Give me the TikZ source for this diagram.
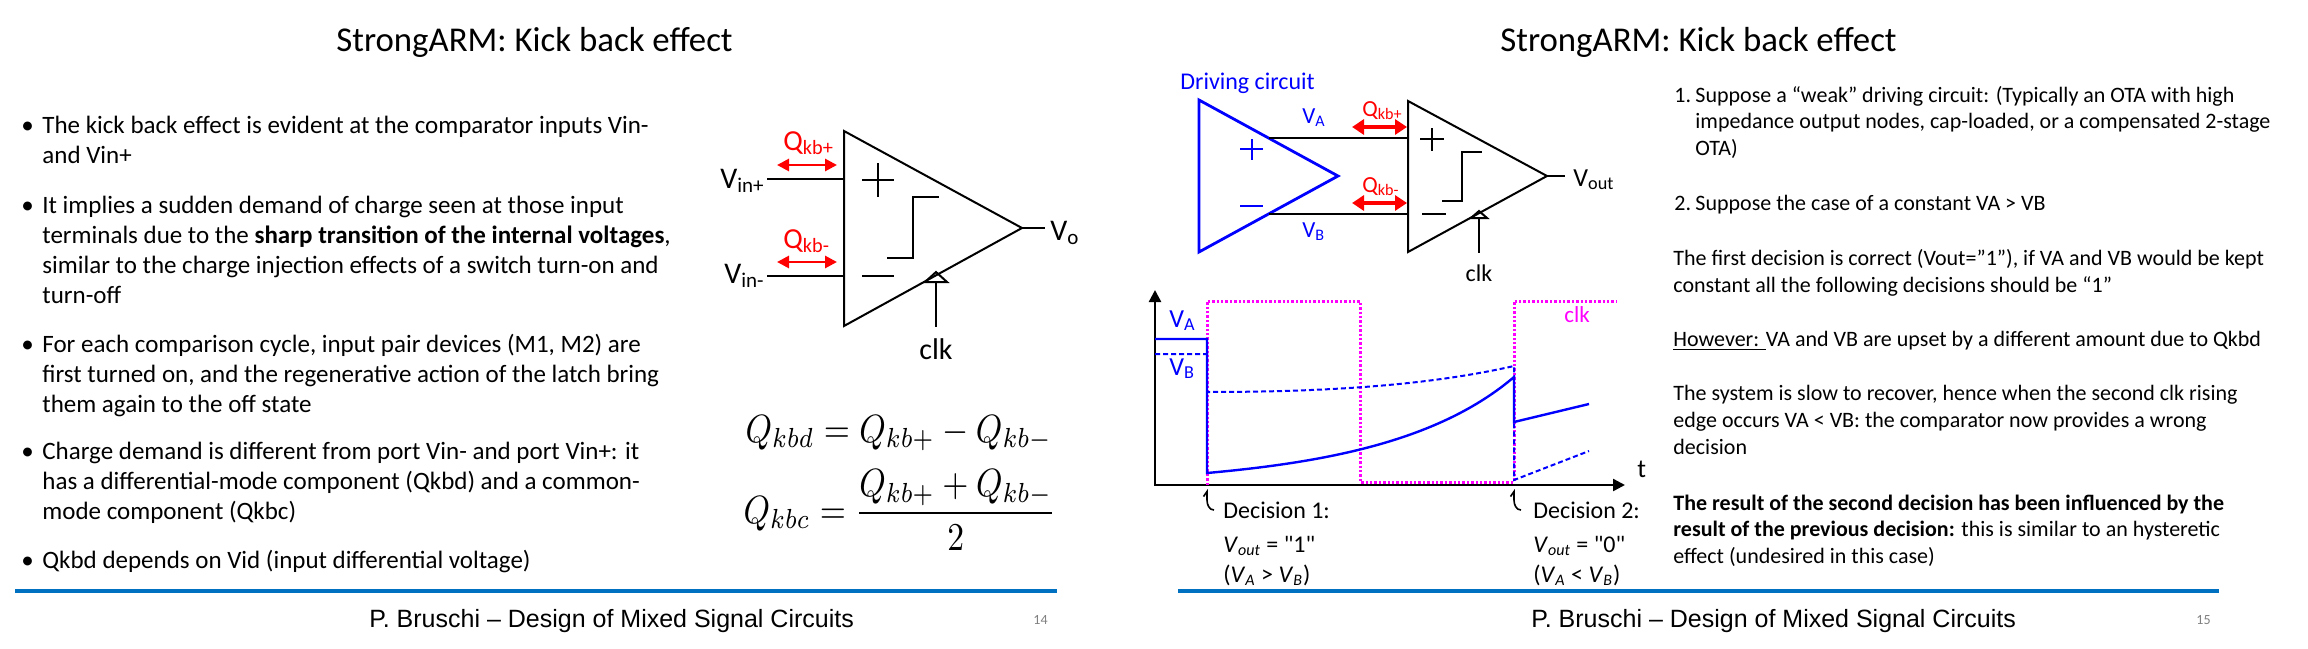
\documentclass[tikz,border=0pt]{standalone}
\usepackage[no-math]{fontspec}
\setmainfont{Carlito}
\newfontfamily\footfont{Liberation Sans}
\usetikzlibrary{arrows.meta,calc}
\definecolor{lineblue}{HTML}{0070C0}
\definecolor{drvblue}{HTML}{0000FF}
\definecolor{clkpink}{HTML}{FF00FF}
\newcommand{\fs}[2]{\fontsize{#1}{#2}\selectfont}
\newcommand{\lines}[1]{\begin{tabular}[t]{@{}l@{}}#1\end{tabular}}

\begin{document}
\begin{tikzpicture}[x=0.5pt,y=-0.5pt,
	wire/.style={line width=1pt},
	kick/.style={red,line width=1.4pt,{Triangle[length=6pt,width=6pt]}-{Triangle[length=6pt,width=6pt]}},
	bigkick/.style={red,line width=1.7pt,{Triangle[length=6pt,width=7.5pt]}-{Triangle[length=6pt,width=7.5pt]}},
	txt/.style={anchor=base west,inner sep=0pt},
	axis/.style={line width=1.2pt,{Triangle[length=6pt,width=6pt]}-{Triangle[length=6pt,width=6pt]}},
	edge/.style={line width=0.8pt,-{Straight Barb[left,length=2.5pt,width=3.5pt]}}]
\fill[white] (0,0) rectangle (2308,648);
\useasboundingbox (0,0) rectangle (2308,648);

% titles
\node[txt,font=\fs{17.4}{20}] (title1) at (336,51) {StrongARM: Kick back effect};
\node[txt,font=\fs{17.4}{20}] (title2) at (1500,51) {StrongARM: Kick back effect};

% left slide: bullets
\foreach \y in {133,213,352,459,568}
	\node[txt,font=\fs{12.5}{15}] (b\y) at (21,\y) {•};
\node[txt,font=\fs{12.5}{15}] (p1) at (42,133) {\lines{The kick back effect is evident at the comparator inputs Vin-\\and Vin+}};
\node[txt,font=\fs{12.5}{15}] (p2) at (42,213) {\lines{It implies a sudden demand of charge seen at those input\\terminals due to the \textbf{sharp transition of the internal voltages},\\similar to the charge injection effects of a switch turn-on and\\turn-off}};
\node[txt,font=\fs{12.5}{15}] (p3) at (42,352) {\lines{For each comparison cycle, input pair devices (M1, M2) are\\first turned on, and the regenerative action of the latch bring\\them again to the off state}};
\node[txt,font=\fs{12.5}{15}] (p4) at (42,459) {\lines{Charge demand is different from port Vin- and port Vin+: it\\has a differential-mode component (Qkbd) and a common-\\mode component (Qkbc)}};
\node[txt,font=\fs{12.5}{15}] (p5) at (42,568) {Qkbd depends on Vid (input differential voltage)};

% left comparator
\coordinate (ct) at (844,131);
\coordinate (cb) at (844,326);
\coordinate (co) at (1022,228);
\coordinate (inp) at (844,179);
\coordinate (inm) at (844,276);
\draw[wire] (ct) -- (co) -- (cb) -- cycle;
\draw[wire] (inp) -- ++(-77,0);
\draw[wire] (inm) -- ++(-77,0);
\draw[wire] (co) -- ++(23,0);
\node[anchor=base east,inner sep=0pt,font=\fs{15}{18}] (vinp) at (765,188) {V\textsubscript{in+}};
\node[anchor=base east,inner sep=0pt,font=\fs{15}{18}] (vinm) at (765,283) {V\textsubscript{in-}};
\node[txt,font=\fs{15}{18}] (vo) at (1050,240) {V\textsubscript{o}};
\node[txt,red,font=\fs{14.5}{17}] (qp) at (783,150) {Q\textsubscript{kb+}};
\node[txt,red,font=\fs{14.5}{17}] (qm) at (783,248) {Q\textsubscript{kb-}};
\draw[kick] (777,165) -- (837,165);
\draw[kick] (777,262) -- (837,262);
\draw[wire] (862,180) -- (894,180) (878,163) -- (878,197);
\draw[wire] (862,276) -- (894,276);
\draw[wire] (887,258) -- (913,258) -- (913,197) -- (939,197);
\draw[wire] (925,282) -- (936,272) -- (947,282) -- cycle;
\draw[wire] (936,282) -- (936,327) node[below=2pt,font=\fs{15}{18}] (clk1) {clk};

% equations
\node[txt,xscale=1.68,yscale=1.97] (eqd) at (745,442) {$Q_{kbd}=Q_{kb+}-Q_{kb-}$};
\node[txt,xscale=1.68,yscale=1.97] (eqc) at (743,523) {$Q_{kbc}=\displaystyle\frac{Q_{kb+}+Q_{kb-}}{2}$};

% right slide: driving circuit and comparator
\coordinate (dt) at (1199,100);
\coordinate (db) at (1199,252);
\coordinate (do) at (1338,176);
\coordinate (st) at (1408,101);
\coordinate (sb) at (1408,252);
\coordinate (so) at (1547,176);
\draw[drvblue,line width=1.4pt] (dt) -- (do) -- (db) -- cycle;
\draw[drvblue,line width=1pt] (1240,149) -- (1263,149) (1252,139) -- (1252,160);
\draw[drvblue,line width=1pt] (1240,206) -- (1263,206);
\node[txt,drvblue,font=\fs{12}{14}] (drv) at (1180,89) {Driving circuit};
\draw[wire] (st) -- (so) -- (sb) -- cycle;
\coordinate (va) at ($(dt)!0.5!(do)$);
\coordinate (vb) at ($(db)!0.5!(do)$);
\draw[wire] (va) -- (va -| st);
\draw[wire] (vb) -- (vb -| st);
\draw[wire] (so) -- ++(18,0);
\node[txt,drvblue,font=\fs{11.5}{14}] (lva) at (1302,123) {V\textsubscript{A}};
\node[txt,drvblue,font=\fs{11.5}{14}] (lvb) at (1302,237) {V\textsubscript{B}};
\node[txt,red,font=\fs{11.5}{14}] (qp2) at (1362,116) {Q\textsubscript{kb+}};
\node[txt,red,font=\fs{11.5}{14}] (qm2) at (1362,192) {Q\textsubscript{kb-}};
\draw[bigkick] (1352,127) -- (1407,127);
\draw[bigkick] (1352,203) -- (1407,203);
\node[txt,font=\fs{13}{15}] (vout) at (1573,186) {V\textsubscript{out}};
\draw[wire] (1420,139) -- (1444,139) (1432,128) -- (1432,151);
\draw[wire] (1422,214) -- (1446,214);
\draw[wire] (1442,201) -- (1462,201) -- (1462,152) -- (1482,152);
\draw[wire] (1471,218) -- (1479,211) -- (1487,218) -- cycle;
\draw[wire] (1479,218) -- (1479,253) node[below=2pt,font=\fs{12}{14}] (clk2) {clk};

% waveforms
\draw[axis] (1155,290) -- (1155,485) -- (1625,485);
\node[txt,font=\fs{13}{15}] (tax) at (1637,477) {t};
\draw[clkpink,line width=1.5pt,dash pattern=on 1.2pt off 1pt] (1207,485) -- (1207,301) -- (1360,301) -- (1360,482) -- (1514,482) -- (1514,301) -- (1616,301);
\draw[drvblue,line width=1.2pt] (1155,339) -- (1207,339) -- (1207,473) .. controls (1330,462) and (1440,440) .. (1514,377) -- (1514,422) -- (1589,404);
\draw[drvblue,line width=1pt,dash pattern=on 2.5pt off 1.5pt] (1155,354) -- (1207,354) -- (1207,392) .. controls (1330,392) and (1430,385) .. (1514,366) -- (1514,480) -- (1589,451);
\node[txt,drvblue,font=\fs{13}{15}] (wva) at (1169,327) {V\textsubscript{A}};
\node[txt,drvblue,font=\fs{13}{15}] (wvb) at (1169,375) {V\textsubscript{B}};
\node[txt,clkpink,font=\fs{11.5}{14}] (wclk) at (1564,322) {clk};
\draw[edge] (1214,510) to[out=180,in=-90] (1207,500) -- (1207,489);
\draw[edge] (1521,510) to[out=180,in=-90] (1514,500) -- (1514,489);
\node[txt,font=\fs{12}{15}] (dec1) at (1223,518) {\lines{Decision 1:\\[2pt]\textit{V}\textsubscript{\textit{out}} = \textquotedbl 1\textquotedbl\\(\textit{V}\textsubscript{\textit{A}} > \textit{V}\textsubscript{\textit{B}})}};
\node[txt,font=\fs{12}{15}] (dec2) at (1533,518) {\lines{Decision 2:\\[2pt]\textit{V}\textsubscript{\textit{out}} = \textquotedbl 0\textquotedbl\\(\textit{V}\textsubscript{\textit{A}} < \textit{V}\textsubscript{\textit{B}})}};

% right slide: text
\node[txt,font=\fs{11}{13.4}] (n1) at (1674,102) {1.};
\node[txt,font=\fs{11}{13.4}] (r1) at (1695,102) {\lines{Suppose a “weak” driving circuit: (Typically an OTA with high\\impedance output nodes, cap-loaded, or a compensated 2-stage\\OTA)}};
\node[txt,font=\fs{11}{13.4}] (n2) at (1674,210) {2.};
\node[txt,font=\fs{11}{13.4}] (r2) at (1695,210) {Suppose the case of a constant VA > VB};
\node[txt,font=\fs{11}{13.5}] (r3) at (1673,265) {\lines{The first decision is correct (Vout=”1”), if VA and VB would be kept\\constant all the following decisions should be “1”}};
\node[txt,font=\fs{11}{13.5}] (r4) at (1673,346) {\underline{However: }VA and VB are upset by a different amount due to Qkbd};
\node[txt,font=\fs{11}{13.6}] (r5) at (1673,400) {\lines{The system is slow to recover, hence when the second clk rising\\edge occurs VA < VB: the comparator now provides a wrong\\decision}};
\node[txt,font=\fs{11}{13.3}] (r6) at (1673,510) {\lines{\textbf{The result of the second decision has been influenced by the}\\\textbf{result of the previous decision:} this is similar to an hysteretic\\effect (undesired in this case)}};

% footers
\draw[lineblue,line width=1.6pt] (15,591) -- (1057,591);
\draw[lineblue,line width=1.6pt] (1178,591) -- (2219,591);
\node[txt,font=\footfont\fs{12.5}{15}] (foot1) at (369,627) {P. Bruschi – Design of Mixed Signal Circuits};
\node[txt,font=\footfont\fs{12.5}{15}] (foot2) at (1531,627) {P. Bruschi – Design of Mixed Signal Circuits};
\node[txt,gray,font=\fs{7}{8}] (pg1) at (1033,624) {14};
\node[txt,gray,font=\fs{7}{8}] (pg2) at (2196,624) {15};
\end{tikzpicture}
\end{document}
